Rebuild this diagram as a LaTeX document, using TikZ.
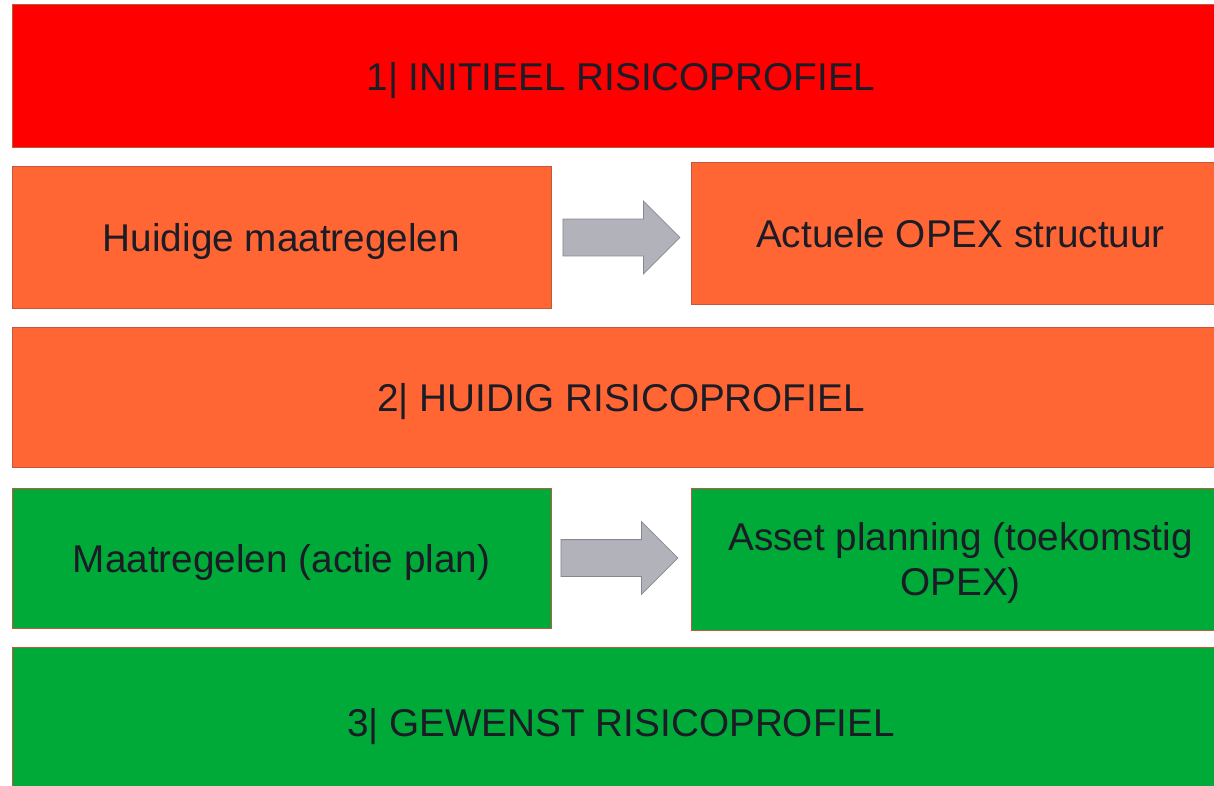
\documentclass[tikz,border=0pt]{standalone}
\usepackage{fontspec}
\setmainfont{Liberation Sans}
\usetikzlibrary{positioning,shapes.arrows}

\definecolor{riskred}{RGB}{255,0,0}
\definecolor{riskorange}{RGB}{255,102,51}
\definecolor{riskgreen}{RGB}{0,170,57}
\definecolor{rimcol}{RGB}{192,88,60}
\definecolor{txtcol}{RGB}{28,28,38}
\definecolor{pijlgrey}{RGB}{178,179,186}
\definecolor{pijlrim}{RGB}{135,135,145}

\tikzset{
  bar/.style={rectangle,draw=rimcol,line width=1pt,minimum width=1218pt,
    inner sep=0pt,text depth=0pt,text=txtcol,font=\fontsize{38.7}{45}\selectfont},
  halfbox/.style={rectangle,draw=rimcol,line width=1pt,minimum width=539pt,
    minimum height=141pt,inner sep=0pt,text depth=0pt,align=center,text=txtcol,
    font=\fontsize{38.7}{45}\selectfont},
  blockarrow/.style={single arrow,draw=pijlrim,fill=pijlgrey,line width=0.8pt,
    minimum height=117pt,inner xsep=0pt,inner ysep=18pt,text height=0pt,text depth=0pt,
    single arrow head extend=18pt,single arrow head indent=0pt,anchor=west}
}

\begin{document}
\begin{tikzpicture}[x=1pt,y=-1pt]
            \useasboundingbox (0,0) rectangle (1214,786);
            \clip (0,0) rectangle (1214,786);
            \node[bar,fill=riskred,minimum height=143pt](initieel) at (621,76.5){1| INITIEEL RISICOPROFIEL};
            \node[halfbox,fill=riskorange](maatregel)[below right =18pt and 0pt of initieel.south west]{Huidige maatregelen};
            \node[halfbox,fill=riskorange](opex)[below left =14pt and 0pt of initieel.south east]{Actuele OPEX structuur};
            \node[bar,fill=riskorange,minimum height=140pt](huidig) at (621,397){2| HUIDIG RISICOPROFIEL};
            \node[halfbox,fill=riskgreen,minimum height=140pt](actie)[below right =20pt and 0pt of huidig.south west]{Maatregelen (actie plan)};
            \node[halfbox,fill=riskgreen,minimum height=142pt](planning)[below left =20pt and 0pt of huidig.south east]{Asset planning (toekomstig\\OPEX)};
            \node[bar,fill=riskgreen,minimum height=150pt](gewenst) at (621,722){3| GEWENST RISICOPROFIEL};
            \node[blockarrow](pijla)[right =11pt of maatregel]{};
            \node[blockarrow](pijlb)[right =9pt of actie]{};
\end{tikzpicture}
\end{document}
